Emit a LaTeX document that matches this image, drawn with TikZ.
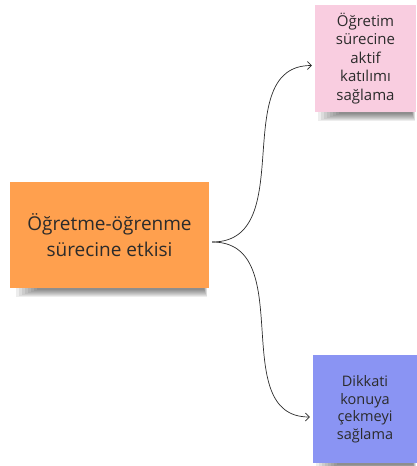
\documentclass[tikz,border=0pt]{standalone}
\usepackage{fontspec}
\setmainfont{Open Sans}
\usetikzlibrary{arrows.meta}
\definecolor{orangenote}{HTML}{FFA04E}
\definecolor{pinknote}{HTML}{F9CDE0}
\definecolor{bluenote}{HTML}{8A94F3}
\definecolor{inkgray}{HTML}{2B2B2B}
\tikzset{
  note/.style={minimum width=#1, align=center, text=inkgray, inner sep=0pt},
  link/.style={draw=inkgray, line width=0.7pt, -{Straight Barb[length=4pt,width=8pt]}, shorten >=3pt},
}
\newcommand{\noteshadow}[3]{% x1 x2 ybottom
  \foreach \k in {0,...,7}{
    \fill[black, opacity=0.07] (#1+\k*3, #3-1) rectangle (#2-\k*0.4, #3+9-\k);
  }
}
\begin{document}
\begin{tikzpicture}[x=1pt,y=-1pt]
\useasboundingbox (0,0) rectangle (417,466);
% shadows
\noteshadow{16}{207}{288}
\noteshadow{318}{415}{112}
\noteshadow{316}{416}{463}
% notes
\node[note=199pt, minimum height=106pt, fill=orangenote, font=\fontsize{19}{26}\selectfont] (o) at (109.5,235) {Öğretme-öğrenme\\sürecine etkisi};
\node[note=101pt, minimum height=107pt, fill=pinknote, font=\fontsize{15}{18.5}\selectfont] (p) at (365.5,58.5) {Öğretim\\sürecine\\aktif\\katılımı\\sağlama};
\node[note=104pt, minimum height=108pt, fill=bluenote, font=\fontsize{14.5}{17.5}\selectfont] (b) at (365,409) {Dikkati\\konuya\\çekmeyi\\sağlama};
% connectors
\draw[link] ([xshift=3pt,yshift=-7pt]o.east) to[out=0,in=180,looseness=1.1] ([yshift=-7pt]p.west);
\draw[link] ([xshift=3pt,yshift=-7pt]o.east) to[out=0,in=180,looseness=1.1] ([yshift=-8pt]b.west);
\end{tikzpicture}
\end{document}
